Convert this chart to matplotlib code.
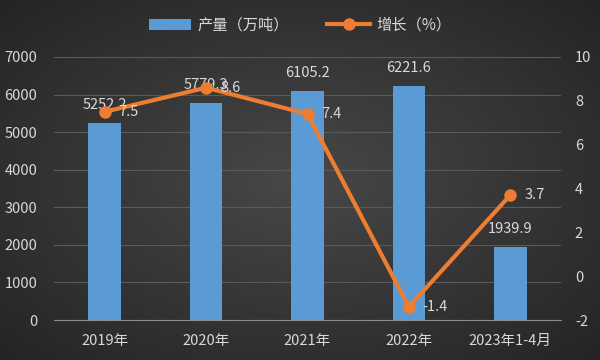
import numpy as np
import matplotlib
matplotlib.use("Agg")
import matplotlib.pyplot as plt

plt.rcParams['font.family'] = ['Noto Sans CJK SC', 'DejaVu Sans']
plt.rcParams['axes.unicode_minus'] = False

categories = ["2019年", "2020年", "2021年", "2022年", "2023年1-4月"]
production = [5252.2, 5779.3, 6105.2, 6221.6, 1939.9]
growth = [7.5, 8.6, 7.4, -1.4, 3.7]
bar_name = "产量（万吨）"
line_name = "增长（%）"

W, H = 600, 360
fig = plt.figure(figsize=(6, 3.6), dpi=100)

# radial dark gradient background
yy, xx = np.mgrid[0:H, 0:W]
r = np.sqrt(((xx - W / 2) / (W / 2)) ** 2 + ((yy - H / 2) / (H / 2)) ** 2) / np.sqrt(2)
c0, c1 = np.array([0x48, 0x48, 0x48]) / 255, np.array([0x24, 0x24, 0x24]) / 255
img = c0[None, None, :] * (1 - r[..., None]) + c1[None, None, :] * r[..., None]
bg = fig.add_axes([0, 0, 1, 1], zorder=-10)
bg.imshow(img, aspect='auto', extent=[0, 1, 0, 1])
bg.axis('off')

left, right = 54 / W, 561 / W
bottom, top = 1 - 320 / H, 1 - 57 / H
ax = fig.add_axes([left, bottom, right - left, top - bottom])
ax.patch.set_alpha(0)
ax2 = ax.twinx()

x = np.arange(len(categories))
txtc = '#d9d9d9'
bars = ax.bar(x, production, width=0.32, color='#5b9bd5', zorder=3, label=bar_name)
ax.set_ylim(0, 7000)
ax.set_yticks(range(0, 7001, 1000))
ax.set_xlim(-0.5, len(categories) - 0.5)
ax.set_xticks(x)
ax.set_xticklabels(categories)
ax.yaxis.grid(True, color='#5a5a5a', linewidth=0.8, zorder=0)
ax.set_axisbelow(True)
for s in ['top', 'right', 'left']:
    ax.spines[s].set_visible(False)
ax.spines['bottom'].set_color('#8c8c8c')
ax.tick_params(axis='both', length=0, colors=txtc, labelsize=10.5)
ax.tick_params(axis='x', pad=10)
ax.tick_params(axis='y', pad=12)
for xi, v in zip(x, production):
    ax.annotate(f"{v:.1f}", (xi, v), xytext=(0, 8), textcoords='offset points',
                ha='center', va='bottom', color=txtc, fontsize=10.5, zorder=6)

line, = ax2.plot(x, growth, color='#ed7d31', linewidth=3, marker='o', markersize=8,
                 zorder=5, label=line_name)
ax2.set_ylim(-2, 10)
ax2.set_yticks(range(-2, 11, 2))
for s in ['top', 'right', 'left', 'bottom']:
    ax2.spines[s].set_visible(False)
ax2.tick_params(axis='y', length=0, colors=txtc, labelsize=10.5, pad=10)
for xi, v in zip(x, growth):
    ax2.annotate(f"{v:.1f}", (xi, v), xytext=(10, 0), textcoords='offset points',
                 ha='left', va='center', color=txtc, fontsize=10.5, zorder=6)

fig.legend(handles=[bars, line], labels=[bar_name, line_name], loc='center',
           bbox_to_anchor=(0.5, 1 - 25 / H), ncol=2, frameon=False,
           labelcolor=txtc, fontsize=11, handlelength=2.8, columnspacing=2.5,
           handletextpad=0.4)

fig.savefig("out.png", dpi=100)
